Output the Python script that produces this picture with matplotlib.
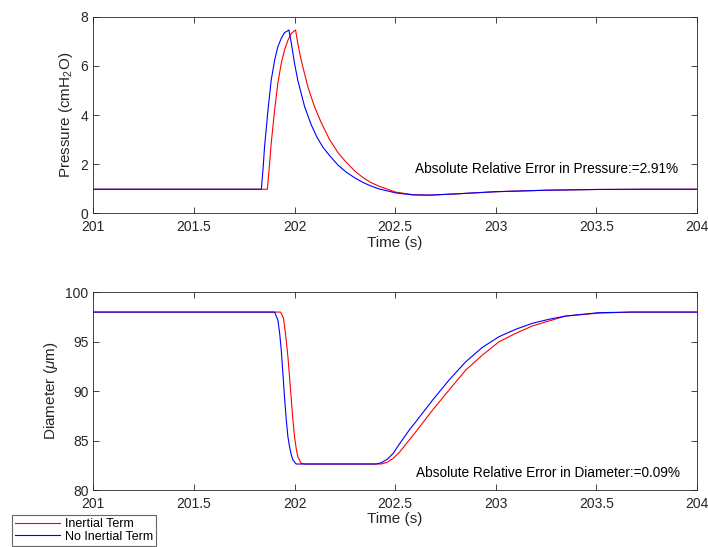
import matplotlib
matplotlib.use('Agg')
import matplotlib.pyplot as plt

plt.rcParams['font.family'] = ['Liberation Sans', 'DejaVu Sans']
plt.rcParams['mathtext.fontset'] = 'custom'
plt.rcParams['mathtext.rm'] = 'Liberation Sans'
plt.rcParams['mathtext.it'] = 'Liberation Sans:italic'

# pressure, inertial term (red)
t_p_in = [201.0, 201.865, 201.876, 201.884, 201.901, 201.917, 201.934, 201.950,
          201.967, 201.984, 202.005, 202.016, 202.033, 202.066, 202.099, 202.132,
          202.174, 202.215, 202.256, 202.30, 202.339, 202.38, 202.421, 202.504,
          202.587, 202.669, 202.80, 203.0, 203.25, 203.5, 203.75, 204.0]
p_in = [0.98, 0.98, 2.03, 2.85, 4.20, 5.29, 6.10, 6.64,
        7.04, 7.32, 7.46, 6.92, 6.23, 5.15, 4.34, 3.70,
        3.00, 2.48, 2.08, 1.72, 1.46, 1.25, 1.10, 0.86,
        0.76, 0.74, 0.79, 0.88, 0.94, 0.97, 0.98, 0.98]

# pressure, no inertial term (blue)
t_p_no = [201.0, 201.835, 201.843, 201.851, 201.868, 201.884, 201.901, 201.917,
          201.934, 201.950, 201.967, 201.972, 201.984, 202.000, 202.016, 202.050,
          202.083, 202.110, 202.140, 202.174, 202.215, 202.256, 202.30, 202.339,
          202.38, 202.421, 202.504, 202.587, 202.669, 202.80, 203.0, 203.25,
          203.5, 203.75, 204.0]
p_no = [0.98, 0.98, 1.76, 2.71, 4.20, 5.42, 6.23, 6.78,
        7.12, 7.35, 7.43, 7.46, 6.92, 6.10, 5.42, 4.34,
        3.60, 3.12, 2.70, 2.35, 1.97, 1.68, 1.44, 1.26,
        1.11, 0.99, 0.83, 0.75, 0.74, 0.79, 0.88, 0.94,
        0.97, 0.98, 0.98]

# diameter, inertial term (red)
t_d_in = [201.0, 201.931, 201.945, 201.955, 201.967, 201.975, 201.984, 201.992,
          202.000, 202.008, 202.016, 202.033, 202.05, 202.43, 202.46, 202.49,
          202.521, 202.570, 202.603, 202.686, 202.768, 202.851, 202.934, 203.016,
          203.099, 203.181, 203.264, 203.347, 203.512, 203.676, 204.0]
d_in = [98.0, 98.0, 97.37, 95.85, 93.48, 91.46, 89.10, 87.08,
        85.39, 84.22, 83.37, 82.70, 82.63, 82.63, 82.80, 83.20,
        83.81, 85.06, 85.90, 88.09, 90.12, 92.14, 93.66, 95.00,
        95.85, 96.59, 97.10, 97.60, 97.90, 98.0, 98.0]

# diameter, no inertial term (blue)
t_d_no = [201.0, 201.901, 201.917, 201.926, 201.934, 201.942, 201.950, 201.959,
          201.967, 201.975, 201.984, 201.992, 202.008, 202.405, 202.43, 202.46,
          202.49, 202.521, 202.570, 202.603, 202.686, 202.768, 202.851, 202.934,
          203.016, 203.099, 203.181, 203.264, 203.347, 203.512, 203.676, 204.0]
d_no = [98.0, 98.0, 97.20, 95.85, 94.16, 91.80, 89.44, 87.08,
        85.39, 84.38, 83.54, 83.03, 82.63, 82.63, 82.75, 83.10,
        83.70, 84.65, 86.07, 86.91, 89.10, 91.13, 92.98, 94.44,
        95.51, 96.26, 96.86, 97.27, 97.60, 97.94, 98.0, 98.0]

x_ticks = [201, 201.5, 202, 202.5, 203, 203.5, 204]
x_labels = ['201', '201.5', '202', '202.5', '203', '203.5', '204']

fig = plt.figure(figsize=(7.08, 5.47), dpi=100)
ax1 = fig.add_axes([0.1318, 0.610, 0.8527, 0.3595])
ax2 = fig.add_axes([0.1318, 0.1042, 0.8527, 0.3614])

axc = '#262626'
for ax in (ax1, ax2):
    ax.set_xlim(201, 204)
    ax.set_xticks(x_ticks)
    ax.set_xticklabels(x_labels)
    ax.tick_params(direction='in', top=True, right=True, labelsize=10,
                   color=axc, labelcolor=axc, length=4, width=0.6)
    ax.tick_params(axis='x', pad=5)
    for s in ax.spines.values():
        s.set_color(axc)
        s.set_linewidth(0.6)
    ax.set_xlabel('Time (s)', fontsize=11, color=axc, labelpad=1)

ax1.plot(t_p_in, p_in, color='r', lw=0.8, label='Inertial Term')
ax1.plot(t_p_no, p_no, color='b', lw=0.8, label='No Inertial Term')
ax1.set_ylim(0, 8)
ax1.set_yticks([0, 2, 4, 6, 8])
ax1.set_ylabel('Pressure (cmH$_2$O)', fontsize=11, color=axc)
ax1.text(203.25, 1.8, 'Absolute Relative Error in Pressure:=2.91%',
         ha='center', va='center', fontsize=9.8, color='black')

ax2.plot(t_d_in, d_in, color='r', lw=0.8)
ax2.plot(t_d_no, d_no, color='b', lw=0.8)
ax2.set_ylim(80, 100)
ax2.set_yticks([80, 85, 90, 95, 100])
ax2.set_ylabel('Diameter ($\\mu$m)', fontsize=11, color=axc)
ax2.text(203.26, 81.7, 'Absolute Relative Error in Diameter:=0.09%',
         ha='center', va='center', fontsize=9.8, color='black')

h, l = ax1.get_legend_handles_labels()
leg = fig.legend(h, l, loc='upper left', bbox_to_anchor=(11.7 / 708, 1 - 515 / 547),
                 fontsize=9, frameon=True, fancybox=False, framealpha=1,
                 edgecolor='#666666', borderpad=0.25, handlelength=3.6,
                 handletextpad=0.4, labelspacing=0.05, borderaxespad=0)
leg.get_frame().set_linewidth(0.8)

fig.savefig('out.png', dpi=100)
